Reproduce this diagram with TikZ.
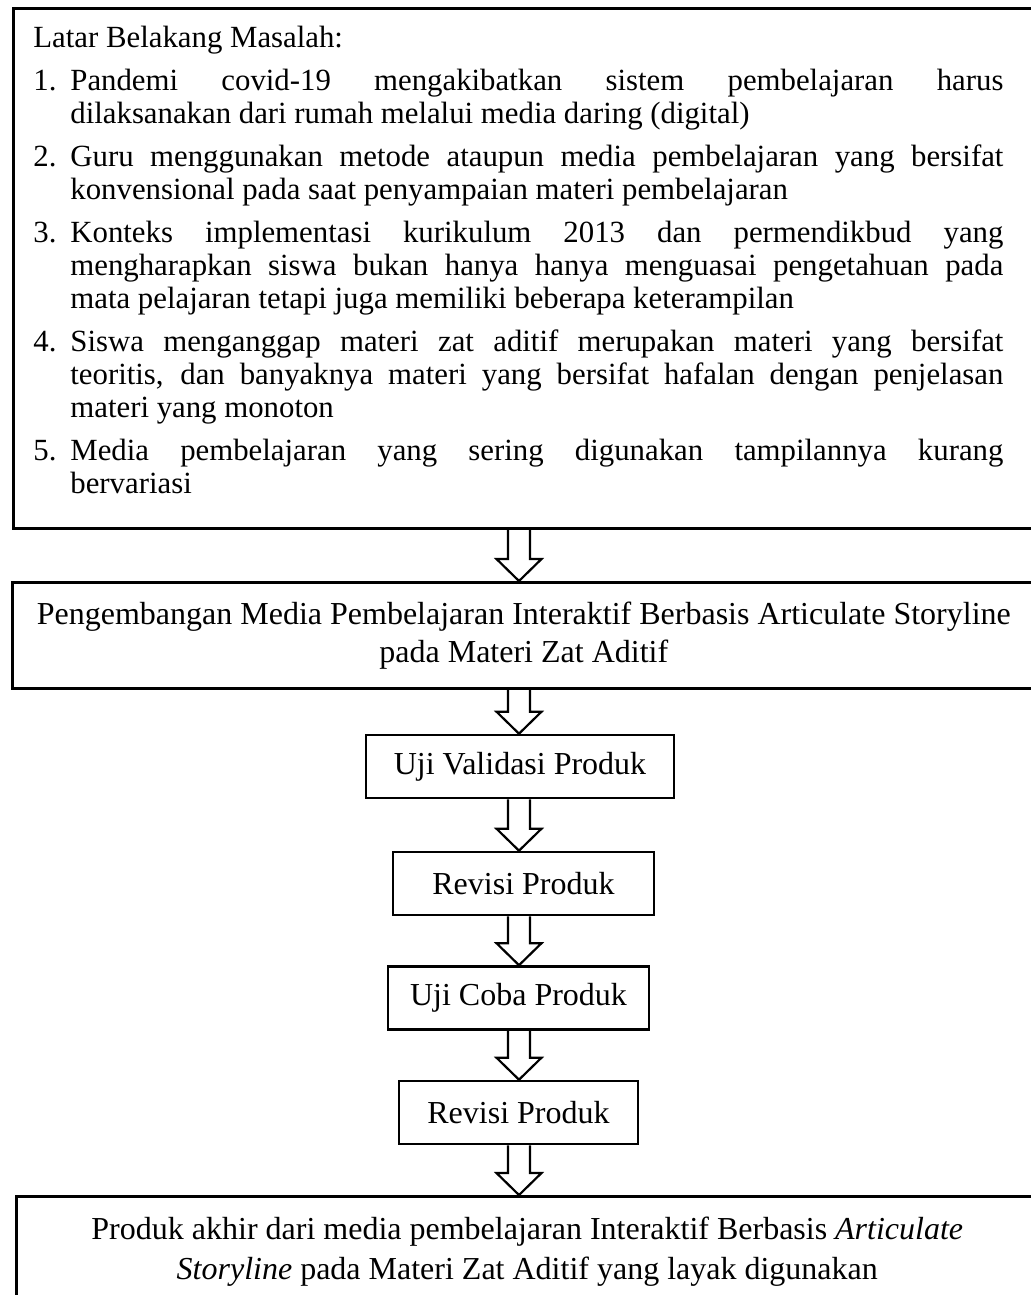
\documentclass[tikz,border=0pt]{standalone}
\usepackage{fontspec}
\setmainfont{Liberation Serif}
\usetikzlibrary{calc}

\newcommand{\bodyfont}{\fontsize{15.4}{16.5}\selectfont}
\newcommand{\stepfont}{\fontsize{16}{19}\selectfont}
\tikzset{
  framebox/.style={draw, line width=1.3pt, inner sep=0pt},
  stepbox/.style={draw, line width=1.3pt, inner sep=0pt, minimum height=31.5pt, font=\stepfont},
  blockarrow/.style={draw, line width=1.1pt, line join=miter},
}
% one numbered point of the list, hanging indent
\newcommand{\masalah}[1]{\par\hangindent=18.5pt\hangafter=1\noindent\makebox[18.5pt][l]{#1}}
% hollow arrow from the bottom of #1 down to the top of #2
\newcommand{\hollowarrow}[2]{%
  \draw[blockarrow] ($(#1.south -| spine)+(-5.5pt,0)$)
    -- ($(#2.north -| spine)+(-5.5pt,11pt)$)
    -- ($(#2.north -| spine)+(-11.25pt,11pt)$)
    -- (#2.north -| spine)
    -- ($(#2.north -| spine)+(11.25pt,11pt)$)
    -- ($(#2.north -| spine)+(5.5pt,11pt)$)
    -- ($(#1.south -| spine)+(5.5pt,0)$);}

\begin{document}
\begin{tikzpicture}[x=0.5pt, y=-0.5pt]
  \useasboundingbox (0,0) rectangle (1031,1295);
  \coordinate (spine) at (519,0);

  % background of the problem
  \node[framebox, anchor=north west, minimum width=514pt, minimum height=260pt] (latar) at (12,7) {};
  \node[anchor=north west, inner sep=0pt, text width=485pt, align=justify, font=\bodyfont] (latartext) at (33,26) {%
    \setlength{\parskip}{5pt}\hyphenpenalty=10000\emergencystretch=3em
    \noindent Latar Belakang Masalah:
    \masalah{1.}Pandemi covid-19 mengakibatkan sistem pembelajaran harus\linebreak dilaksanakan dari rumah melalui media daring (digital)
    \masalah{2.}Guru menggunakan metode ataupun media pembelajaran yang bersifat\linebreak konvensional pada saat penyampaian materi pembelajaran
    \masalah{3.}Konteks implementasi kurikulum 2013 dan permendikbud yang\linebreak mengharapkan siswa bukan hanya hanya menguasai pengetahuan pada\linebreak mata pelajaran tetapi juga memiliki beberapa keterampilan
    \masalah{4.}Siswa menganggap materi zat aditif merupakan materi yang bersifat\linebreak teoritis, dan banyaknya materi yang bersifat hafalan dengan penjelasan\linebreak materi yang monoton
    \masalah{5.}Media pembelajaran yang sering digunakan tampilannya kurang\linebreak bervariasi\par};

  \node[framebox, anchor=north west, minimum width=511.5pt, minimum height=53pt, align=center,
    font=\stepfont] (pengembangan) at (11,581)
    {Pengembangan Media Pembelajaran Interaktif Berbasis Articulate Storyline\\pada Materi Zat Aditif};

  \node[stepbox, minimum width=154pt] (validasi) at (520,766.5) {Uji Validasi Produk};
  \node[stepbox, minimum width=130.5pt] (revisisatu) at (523.5,883.5) {Revisi Produk};
  \node[stepbox, minimum width=130.5pt] (ujicoba) at (518.5,998) {Uji Coba Produk};
  \node[stepbox, minimum width=119.5pt] (revisidua) at (518.5,1112.5) {Revisi Produk};

  \node[framebox, anchor=north west, minimum width=511pt, minimum height=55pt, align=center,
    font=\fontsize{16}{20}\selectfont] (produk) at (15,1195)
    {Produk akhir dari media pembelajaran Interaktif Berbasis \textit{Articulate}\\\textit{Storyline} pada Materi Zat Aditif yang layak digunakan};

  \hollowarrow{latar}{pengembangan}
  \hollowarrow{pengembangan}{validasi}
  \hollowarrow{validasi}{revisisatu}
  \hollowarrow{revisisatu}{ujicoba}
  \hollowarrow{ujicoba}{revisidua}
  \hollowarrow{revisidua}{produk}
\end{tikzpicture}
\end{document}
